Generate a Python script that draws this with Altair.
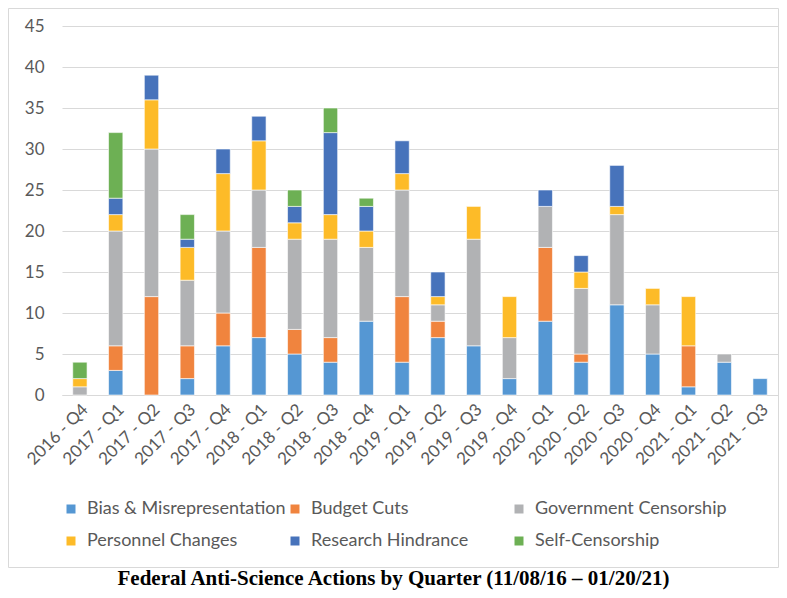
import altair as alt
import pandas as pd

quarters = ["2016 - Q4", "2017 - Q1", "2017 - Q2", "2017 - Q3", "2017 - Q4",
            "2018 - Q1", "2018 - Q2", "2018 - Q3", "2018 - Q4", "2019 - Q1",
            "2019 - Q2", "2019 - Q3", "2019 - Q4", "2020 - Q1", "2020 - Q2",
            "2020 - Q3", "2020 - Q4", "2021 - Q1", "2021 - Q2", "2021 - Q3"]

categories = ["Bias & Misrepresentation", "Budget Cuts", "Government Censorship",
              "Personnel Changes", "Research Hindrance", "Self-Censorship"]
colors = ["#5597d3", "#f0843e", "#b1b2b4", "#fdbb28", "#4773bb", "#6db054"]

bias = [0, 3, 0, 2, 6, 7, 5, 4, 9, 4, 7, 6, 2, 9, 4, 11, 5, 1, 4, 2]
budget = [0, 3, 12, 4, 4, 11, 3, 3, 0, 8, 2, 0, 0, 9, 1, 0, 0, 5, 0, 0]
government = [1, 14, 18, 8, 10, 7, 11, 12, 9, 13, 2, 13, 5, 5, 8, 11, 6, 0, 1, 0]
personnel = [1, 2, 6, 4, 7, 6, 2, 3, 2, 2, 1, 4, 5, 0, 2, 1, 2, 6, 0, 0]
research = [0, 2, 3, 1, 3, 3, 2, 10, 3, 4, 3, 0, 0, 2, 2, 5, 0, 0, 0, 0]
self_censorship = [2, 8, 0, 3, 0, 0, 2, 3, 1, 0, 0, 0, 0, 0, 0, 0, 0, 0, 0, 0]

series = [bias, budget, government, personnel, research, self_censorship]

rows = []
for ci, (cat, vals) in enumerate(zip(categories, series)):
    for q, v in zip(quarters, vals):
        if v > 0:
            rows.append({"quarter": q, "category": cat, "count": v, "idx": ci})
df = pd.DataFrame(rows)

font = "Lato"
text_color = "#595959"

bars = alt.Chart(df).mark_bar(stroke="white", strokeWidth=0.6).encode(
    x=alt.X("quarter:N", sort=quarters,
            scale=alt.Scale(paddingInner=0.6, paddingOuter=0.3),
            axis=alt.Axis(title=None, labelAngle=-45, labelFontSize=17,
                          labelColor=text_color, labelFont=font, ticks=False,
                          domainColor="#d9d9d9", labelPadding=6, grid=False)),
    y=alt.Y("count:Q", scale=alt.Scale(domain=[0, 45]),
            axis=alt.Axis(title=None, values=list(range(0, 50, 5)), labelFontSize=17,
                          labelColor=text_color, labelFont=font, ticks=False,
                          domain=False, gridColor="#d9d9d9", labelPadding=18)),
    color=alt.Color("category:N", sort=categories,
                    scale=alt.Scale(domain=categories, range=colors),
                    legend=alt.Legend(title=None, orient="none", legendX=0, legendY=474,
                                      direction="horizontal",
                                      columns=3, gridAlign="all", columnPadding=0,
                                      rowPadding=14, symbolType="square", symbolSize=81,
                                      symbolStrokeWidth=0, labelFontSize=18,
                                      labelFont=font, labelColor=text_color,
                                      labelLimit=400, labelOffset=7)),
    order=alt.Order("idx:Q", sort="ascending"),
)

border = alt.Chart(pd.DataFrame({"a": [0]})).mark_rect(
    fill=None, stroke="#d9d9d9", strokeWidth=1
).encode(
    x=alt.value(-53.5), x2=alt.value(716.5),
    y=alt.value(-17.5), y2=alt.value(541.5),
)

chart = alt.layer(border, bars).properties(
    width=716, height=369,
    padding={"left": 54, "top": 18, "right": 1, "bottom": 195},
    autosize=alt.AutoSizeParams(type="none"),
    title=alt.TitleParams(
        "Federal Anti-Science Actions by Quarter (11/08/16 \u2013 01/20/21)",
        orient="bottom", font="Liberation Serif", fontSize=21, fontWeight="bold",
        color="black", anchor="middle", frame="bounds", offset=0),
).configure_view(stroke=None)

chart.save("out.html", embed_options={"renderer": "svg", "actions": False})
